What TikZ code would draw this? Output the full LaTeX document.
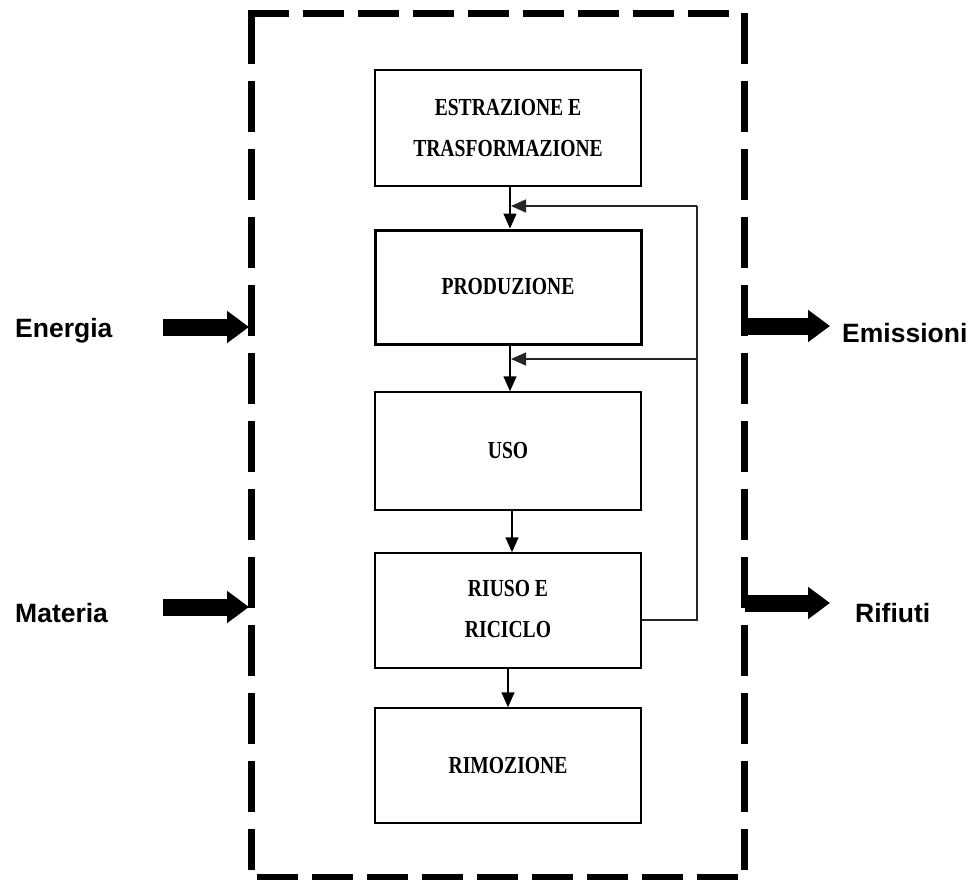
\documentclass[tikz,border=0pt]{standalone}
\usepackage{fontspec}
\setmainfont{Liberation Serif}
\newfontfamily\boxfont[FakeStretch=0.8]{Liberation Serif}
\newfontfamily\labfont{Liberation Sans}
\usetikzlibrary{arrows.meta,calc}
\begin{document}
\begin{tikzpicture}[x=1pt,y=-1pt,
  stage/.style={draw, line width=1.5pt, minimum width=266pt, minimum height=116pt,
    inner sep=0pt, align=center, font=\boxfont\bfseries\fontsize{24.5}{41}\selectfont},
  flow/.style={line width=1.5pt, -{Triangle[length=15pt,width=13pt]}},
  fback/.style={line width=1.5pt, black!85},
  big/.style={line width=17pt, -{Triangle[length=22pt,width=31pt]}},
  lab/.style={font=\labfont\bfseries\fontsize{26.5}{30}\selectfont, anchor=base west, inner sep=0pt},
  hbound/.style={line width=7pt, dash pattern=on 41pt off 14pt},
  vbound/.style={line width=7pt, dash pattern=on 51pt off 17pt}]
\useasboundingbox (0,0) rectangle (970,879);

% system boundary
\coordinate (nw) at (251,13);
\coordinate (ne) at (744,13);
\coordinate (sw) at (251,870);
\coordinate (se) at (744,870);
\coordinate (tl) at (247.5,13);
\coordinate (tr) at (735,13);
\coordinate (bl) at (257,877);
\coordinate (br) at (744,877);
\draw[hbound] (tl) -- (tr);
\draw[hbound] (bl) -- (br);
\draw[vbound] (nw) -- (sw);
\draw[vbound] (ne) -- (se);

% stages
\node[stage] (estr) at (508,128) {ESTRAZIONE E\\TRASFORMAZIONE};
\node[stage, line width=3pt, minimum height=114pt] (prod) at (508,287) {PRODUZIONE};
\node[stage, minimum height=118pt] (uso) at (508,451) {USO};
\node[stage, minimum height=115pt] (riuso) at (508,610.5) {\raisebox{4pt}{RIUSO E}\\\raisebox{4pt}{RICICLO}};
\node[stage, minimum height=115pt] (rim) at (508,765.5) {RIMOZIONE};

% main flow
\draw[flow] ([xshift=2pt]estr.south) -- ([xshift=2pt]prod.north);
\draw[flow] ([xshift=2pt]prod.south) -- ([xshift=2pt]uso.north);
\draw[flow] ([xshift=4pt]uso.south) -- ([xshift=4pt]riuso.north);
\draw[flow] (riuso.south) -- (rim.north);

% feedback loop
\coordinate (fbout) at ($(riuso.east)+(0,9.5)$);
\coordinate (fbtop) at (697,206);
\coordinate (fbmid) at (697,359);
\coordinate (j1) at ([xshift=3pt]estr.south |- fbtop);
\coordinate (j2) at ([xshift=3pt]prod.south |- fbmid);
\draw[fback] (fbout) -| (fbtop);
\draw[flow, fback] (fbtop) -- (j1);
\draw[flow, fback] (fbmid) -- (j2);

% labels
\node[lab] (energia) at (15,337) {Energia};
\node[lab] (materia) at (15,622) {Materia};
\node[lab] (emissioni) at (842,342) {Emissioni};
\node[lab] (rifiuti) at (855,622) {Rifiuti};

% exchange arrows
\coordinate (e0) at (163,327);
\coordinate (e1) at (249,327);
\coordinate (m0) at (163,607);
\coordinate (m1) at (249,607);
\coordinate (o0) at (745,326);
\coordinate (o1) at (830,326);
\coordinate (r0) at (745,603);
\coordinate (r1) at (830,603);
\draw[big] (e0) -- (e1);
\draw[big] (m0) -- (m1);
\draw[big] (o0) -- (o1);
\draw[big] (r0) -- (r1);
\end{tikzpicture}
\end{document}
